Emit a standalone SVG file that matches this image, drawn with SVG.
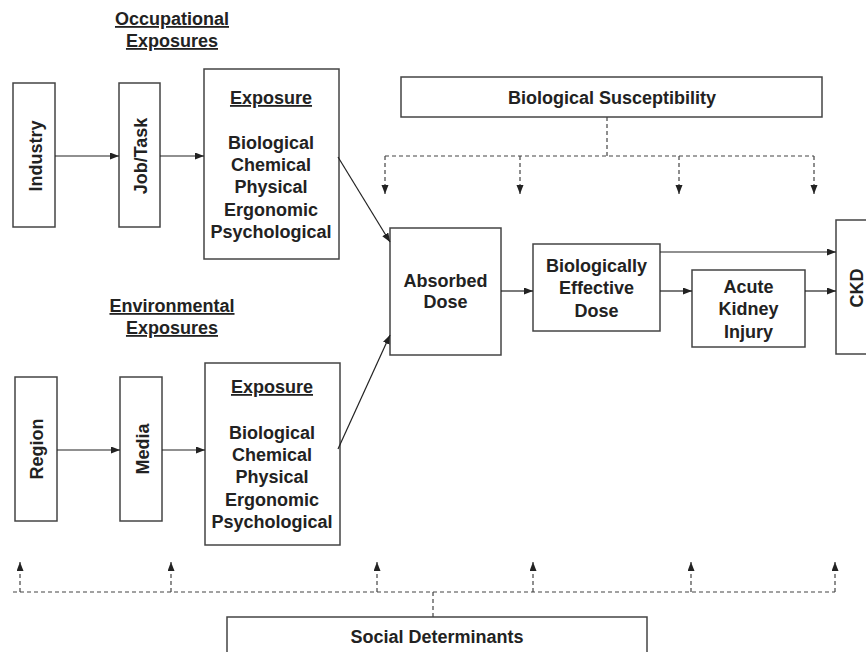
<svg xmlns="http://www.w3.org/2000/svg" width="866" height="652" viewBox="0 0 866 652">
<style>
.box{fill:#fff;stroke:#444;stroke-width:1.5}
.t{font-family:"Liberation Sans",Arial,sans-serif;font-weight:bold;font-size:18px;fill:#222;text-anchor:middle}
.u{text-decoration:underline}
.arr{fill:none;stroke:#222;stroke-width:1.2;marker-end:url(#ah)}
.dash{fill:none;stroke:#444;stroke-width:1.2;stroke-dasharray:4 3}
.darr{fill:none;stroke:#444;stroke-width:1.2;stroke-dasharray:4 3;marker-end:url(#ah)}
</style>
<defs>
<marker id="ah" markerUnits="userSpaceOnUse" markerWidth="10" markerHeight="8" refX="9" refY="3.5" orient="auto">
<path d="M0,0 L9,3.5 L0,7 z" fill="#222"/>
</marker>
</defs>
<rect width="866" height="652" fill="#fff"/>

<g id="occ-label">
<text class="t u" x="172" y="25">Occupational</text>
<text class="t u" x="172" y="47">Exposures</text>
</g>
<g id="industry">
<rect class="box" x="13" y="83" width="42" height="144"/>
<text class="t" transform="translate(35,156) rotate(-90)" y="6.5">Industry</text>
</g>
<g id="jobtask">
<rect class="box" x="119" y="83" width="41" height="144"/>
<text class="t" transform="translate(140,156) rotate(-90)" y="6.5">Job/Task</text>
</g>
<g id="exposure-occ">
<rect class="box" x="204" y="69" width="135" height="190"/>
<text class="t u" x="271" y="104">Exposure</text>
<text class="t" x="271" y="149">Biological</text>
<text class="t" x="271" y="171">Chemical</text>
<text class="t" x="271" y="193">Physical</text>
<text class="t" x="271" y="216">Ergonomic</text>
<text class="t" x="271" y="238">Psychological</text>
</g>

<g id="env-label">
<text class="t u" x="172" y="312">Environmental</text>
<text class="t u" x="172" y="334">Exposures</text>
</g>
<g id="region">
<rect class="box" x="15" y="377" width="42" height="144"/>
<text class="t" transform="translate(36,449) rotate(-90)" y="6.5">Region</text>
</g>
<g id="media">
<rect class="box" x="120" y="377" width="42" height="144"/>
<text class="t" transform="translate(142,449) rotate(-90)" y="6.5">Media</text>
</g>
<g id="exposure-env">
<rect class="box" x="205" y="363" width="135" height="182"/>
<text class="t u" x="272" y="393">Exposure</text>
<text class="t" x="272" y="439">Biological</text>
<text class="t" x="272" y="461">Chemical</text>
<text class="t" x="272" y="483">Physical</text>
<text class="t" x="272" y="506">Ergonomic</text>
<text class="t" x="272" y="528">Psychological</text>
</g>

<g id="bio-susceptibility">
<rect class="box" x="401" y="77" width="421" height="40"/>
<text class="t" x="612" y="104">Biological Susceptibility</text>
</g>
<g id="absorbed-dose">
<rect class="box" x="390" y="228" width="111" height="127"/>
<text class="t" x="445.5" y="287">Absorbed</text>
<text class="t" x="445.5" y="308">Dose</text>
</g>
<g id="bed">
<rect class="box" x="533" y="244" width="127" height="87"/>
<text class="t" x="596.5" y="272">Biologically</text>
<text class="t" x="596.5" y="294">Effective</text>
<text class="t" x="596.5" y="317">Dose</text>
</g>
<g id="aki">
<rect class="box" x="692" y="270" width="113" height="77"/>
<text class="t" x="748.5" y="293">Acute</text>
<text class="t" x="748.5" y="315">Kidney</text>
<text class="t" x="748.5" y="338">Injury</text>
</g>
<g id="ckd">
<rect class="box" x="836" y="220" width="40" height="134"/>
<text class="t" transform="translate(856,288) rotate(-90)" y="6.5">CKD</text>
</g>
<g id="social-determinants">
<rect class="box" x="227" y="617" width="420" height="50"/>
<text class="t" x="437" y="643">Social Determinants</text>
</g>

<g id="connectors">
<path class="arr" d="M55,156 H119"/>
<path class="arr" d="M160,156 H204"/>
<path class="arr" d="M57,450 H120"/>
<path class="arr" d="M162,450 H205"/>
<path class="arr" d="M338,157 L390,242"/>
<path class="arr" d="M338,449 L390,335"/>
<path class="arr" d="M501,291 H533"/>
<path class="arr" d="M660,291 H692"/>
<path class="arr" d="M805,291 H836"/>
<path class="arr" d="M660,252 H836"/>
<path class="dash" d="M607,117 V156 M385,156 H814"/>
<path class="darr" d="M385,156 V194"/>
<path class="darr" d="M520,156 V194"/>
<path class="darr" d="M679,156 V194"/>
<path class="darr" d="M814,156 V194"/>
<path class="dash" d="M433,617 V592 M13,592 H835"/>
<path class="darr" d="M20,592 V562"/>
<path class="darr" d="M171,592 V562"/>
<path class="darr" d="M377,592 V562"/>
<path class="darr" d="M533,592 V562"/>
<path class="darr" d="M691,592 V562"/>
<path class="darr" d="M835,592 V562"/>
</g>
</svg>
